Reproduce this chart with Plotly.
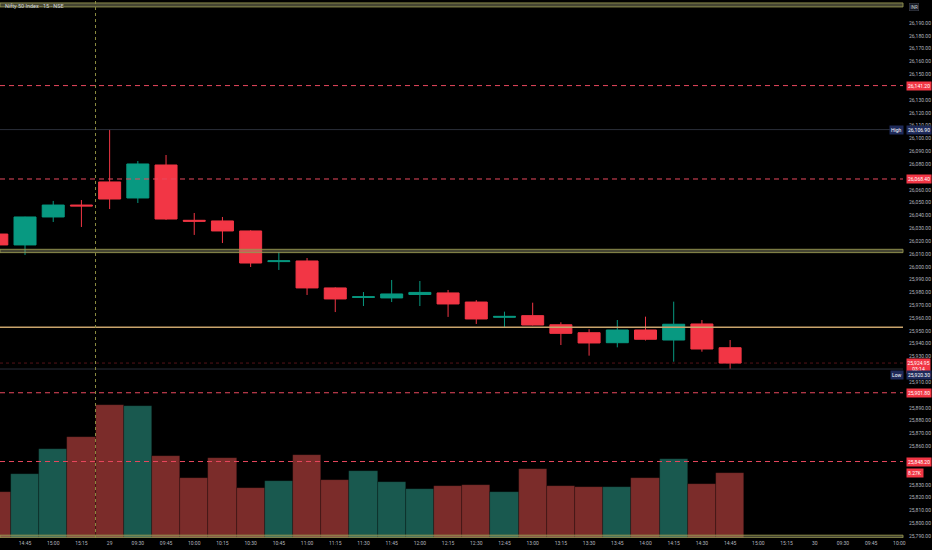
import plotly.graph_objects as go

# 15 分钟 K 线：28 日 14:30 到 29 日 14:45
bar_times = ["14:30", "14:45", "15:00", "15:15",
             "09:15", "09:30", "09:45", "10:00", "10:15", "10:30", "10:45", "11:00",
             "11:15", "11:30", "11:45", "12:00", "12:15", "12:30", "12:45", "13:00",
             "13:15", "13:30", "13:45", "14:00", "14:15", "14:30", "14:45"]
opens = [26025.5, 26017.0, 26038.8, 26048.1,
         26066.1, 26053.6, 26079.3, 26036.2, 26035.7, 26027.9, 26004.0, 26004.5,
         25983.5, 25976.1, 25975.7, 25978.4, 25979.6, 25972.5, 25960.6, 25961.9,
         25954.8, 25948.6, 25940.8, 25950.7, 25942.9, 25955.4, 25936.9]
highs = [26027.0, 26039.0, 26051.3, 26052.0,
         26106.9, 26082.4, 26087.1, 26041.9, 26038.8, 26028.5, 26011.5, 26006.8,
         25984.0, 25980.3, 25989.7, 25988.9, 25981.9, 25974.0, 25965.0, 25972.0,
         25956.7, 25951.3, 25958.5, 25961.1, 25972.8, 25958.5, 25942.9]
lows = [26015.0, 26009.2, 26034.9, 26031.0,
        26045.0, 26049.7, 26036.5, 26024.8, 26018.5, 25999.8, 25997.5, 25978.0,
        25964.7, 25969.4, 25972.5, 25969.4, 25960.9, 25955.4, 25953.1, 25954.3,
        25939.0, 25930.7, 25937.2, 25942.5, 25926.0, 25933.8, 25920.3]
closes = [26017.0, 26038.8, 26048.1, 26047.4,
          26052.8, 26080.1, 26037.2, 26035.5, 26027.9, 26002.9, 26004.6, 25983.5,
          25974.9, 25976.6, 25978.8, 25980.0, 25971.0, 25959.3, 25961.3, 25954.6,
          25948.1, 25940.6, 25950.7, 25943.5, 25955.2, 25935.9, 25924.95]
volumes_k = [5.85, 8.14, 11.32, 12.85,
             16.92, 16.79, 10.43, 7.63, 10.18, 6.36, 7.25, 10.56,
             7.38, 8.52, 7.12, 6.23, 6.61, 6.74, 5.85, 8.78,
             6.61, 6.49, 6.49, 7.63, 10.05, 6.87, 8.27]

# 时间轴标签（含右侧空白的未来时段）
axis_labels = ["14:30", "14:45", "15:00", "15:15",
               "29", "09:30", "09:45", "10:00", "10:15", "10:30", "10:45", "11:00",
               "11:15", "11:30", "11:45", "12:00", "12:15", "12:30", "12:45", "13:00",
               "13:15", "13:30", "13:45", "14:00", "14:15", "14:30", "14:45",
               "15:00", "15:15", "30", "09:30", "09:45", "10:00"]

# 关键价位
red_levels = [26141.20, 26068.40, 25901.80, 25848.20]
band_levels = [(26202.5, 26205.6), (26011.0, 26013.6), (25788.8, 25790.8)]
gold_level = 25952.8
day_high = 26106.90
day_low = 25920.30
price_ticks = list(range(25790, 26191, 10))

PRICE_RANGE = [25788.6, 26207.9]
VOL_RANGE = [0, 68.45]
UP = "#089981"
DOWN = "#f23645"
xs = list(range(len(bar_times)))

# 被价格标签盖住的刻度不显示
vol_as_price = PRICE_RANGE[0] + volumes_k[-1] / VOL_RANGE[1] * (PRICE_RANGE[1] - PRICE_RANGE[0])
covered = red_levels + [day_low, closes[-1], vol_as_price]
shown_ticks = [t for t in price_ticks if all(abs(t - c) > 3.5 for c in covered)]

fig = go.Figure()

vol_colors = ["#19594f" if c >= o else "#7b2c2a" for o, c in zip(opens, closes)]
fig.add_trace(go.Bar(x=xs, y=volumes_k, yaxis="y2", marker_color=vol_colors,
                     marker_line_color="rgba(0,0,0,0.35)", marker_line_width=0.6,
                     width=1.0, showlegend=False, hoverinfo="skip"))

fig.add_trace(go.Candlestick(
    x=xs, open=opens, high=highs, low=lows, close=closes,
    increasing=dict(line=dict(color=UP, width=1), fillcolor=UP),
    decreasing=dict(line=dict(color=DOWN, width=1), fillcolor=DOWN),
    whiskerwidth=0, showlegend=False, text=bar_times))

shapes = []
for y0, y1 in band_levels:
    shapes.append(dict(type="rect", xref="paper", x0=0, x1=1, y0=y0, y1=y1,
                       fillcolor="rgba(150,150,110,0.45)",
                       line=dict(color="rgba(150,150,80,0.9)", width=1)))
shapes.append(dict(type="line", xref="paper", x0=0, x1=1, y0=gold_level, y1=gold_level,
                   line=dict(color="#c9a46c", width=1.6)))
for lv in [day_high, day_low]:
    shapes.append(dict(type="line", xref="paper", x0=0, x1=1, y0=lv, y1=lv,
                       line=dict(color="#2a2e39", width=1)))
shapes.append(dict(type="line", xref="paper", x0=0, x1=1, y0=closes[-1], y1=closes[-1],
                   line=dict(color="rgba(242,54,69,0.35)", width=1, dash="dot")))
for lv in red_levels:
    shapes.append(dict(type="line", xref="paper", x0=0, x1=1, y0=lv, y1=lv,
                       line=dict(color="#e8485e", width=1, dash="5px,4px")))
shapes.append(dict(type="line", yref="paper", x0=3.5, x1=3.5, y0=0, y1=1,
                   line=dict(color="#8c8c40", width=1, dash="dot")))

ann = []
lab_font = dict(family="Roboto", size=5, color="white")
for lv in red_levels:
    ann.append(dict(xref="paper", x=1, xanchor="left", xshift=3, y=lv, yref="y",
                    text=f"{lv:,.2f}", showarrow=False, bgcolor="#f23645",
                    font=lab_font, borderpad=1))
ann.append(dict(xref="paper", x=1, xanchor="left", xshift=3, y=closes[-1], yref="y",
                text=f"{closes[-1]:,.2f}<br>03:14", showarrow=False, bgcolor="#f23645",
                font=lab_font, borderpad=0.5, yanchor="top", yshift=5))
for name, lv, shift in [("High", day_high, 0), ("Low", day_low, -6)]:
    ann.append(dict(xref="paper", x=1, xanchor="left", xshift=3, y=lv, yref="y",
                    yshift=shift, text=f"{lv:,.2f}", showarrow=False, bgcolor="#1e2a5a",
                    font=lab_font, borderpad=1))
    ann.append(dict(xref="paper", x=1, xanchor="right", xshift=1, y=lv, yref="y",
                    yshift=shift, text=name, showarrow=False, bgcolor="#1e2a5a",
                    font=lab_font, borderpad=1))
ann.append(dict(xref="paper", x=1, xanchor="left", xshift=3, y=volumes_k[-1], yref="y2",
                text=f"{volumes_k[-1]:.2f}K", showarrow=False, bgcolor="#f23645",
                font=lab_font, borderpad=1))
ann.append(dict(xref="paper", x=1, xanchor="left", xshift=6, yref="paper", y=0.995,
                yanchor="top", text="INR", showarrow=False, bgcolor="#131722",
                bordercolor="#434651", borderwidth=0.5,
                font=dict(family="Roboto", size=4.5, color="#d1d4dc")))
ann.append(dict(xref="paper", x=0.003, xanchor="left", yref="paper", y=0.998,
                yanchor="top", text="Nifty 50 Index · 15 · NSE", showarrow=False,
                font=dict(family="Roboto", size=5.5, color="#d1d4dc")))

fig.update_layout(
    width=932, height=550,
    margin=dict(l=0, r=29, t=0, b=12),
    paper_bgcolor="#000000", plot_bgcolor="#000000",
    boxgap=0.22, boxgroupgap=0, bargap=0,
    shapes=shapes, annotations=ann,
    hovermode="x",
    xaxis=dict(range=[0.113, 32.13], tickvals=list(range(len(axis_labels))),
               ticktext=axis_labels, showgrid=False, zeroline=False,
               tickfont=dict(family="Roboto", size=5, color="#b2b5be"),
               ticks="", ticklabelstandoff=1, rangeslider=dict(visible=False),
               showline=False),
    yaxis=dict(side="right", range=PRICE_RANGE, tickvals=shown_ticks,
               tickformat=",.2f", showgrid=False, zeroline=False,
               tickfont=dict(family="Roboto", size=5, color="#b2b5be"),
               ticks="", ticklabelstandoff=5),
    yaxis2=dict(overlaying="y", range=VOL_RANGE, visible=False),
)

# 去掉页面默认边距，让图表贴齐窗口
fig.write_html("out.html", config={"displayModeBar": False},
               post_script="document.body.style.margin='0';")
